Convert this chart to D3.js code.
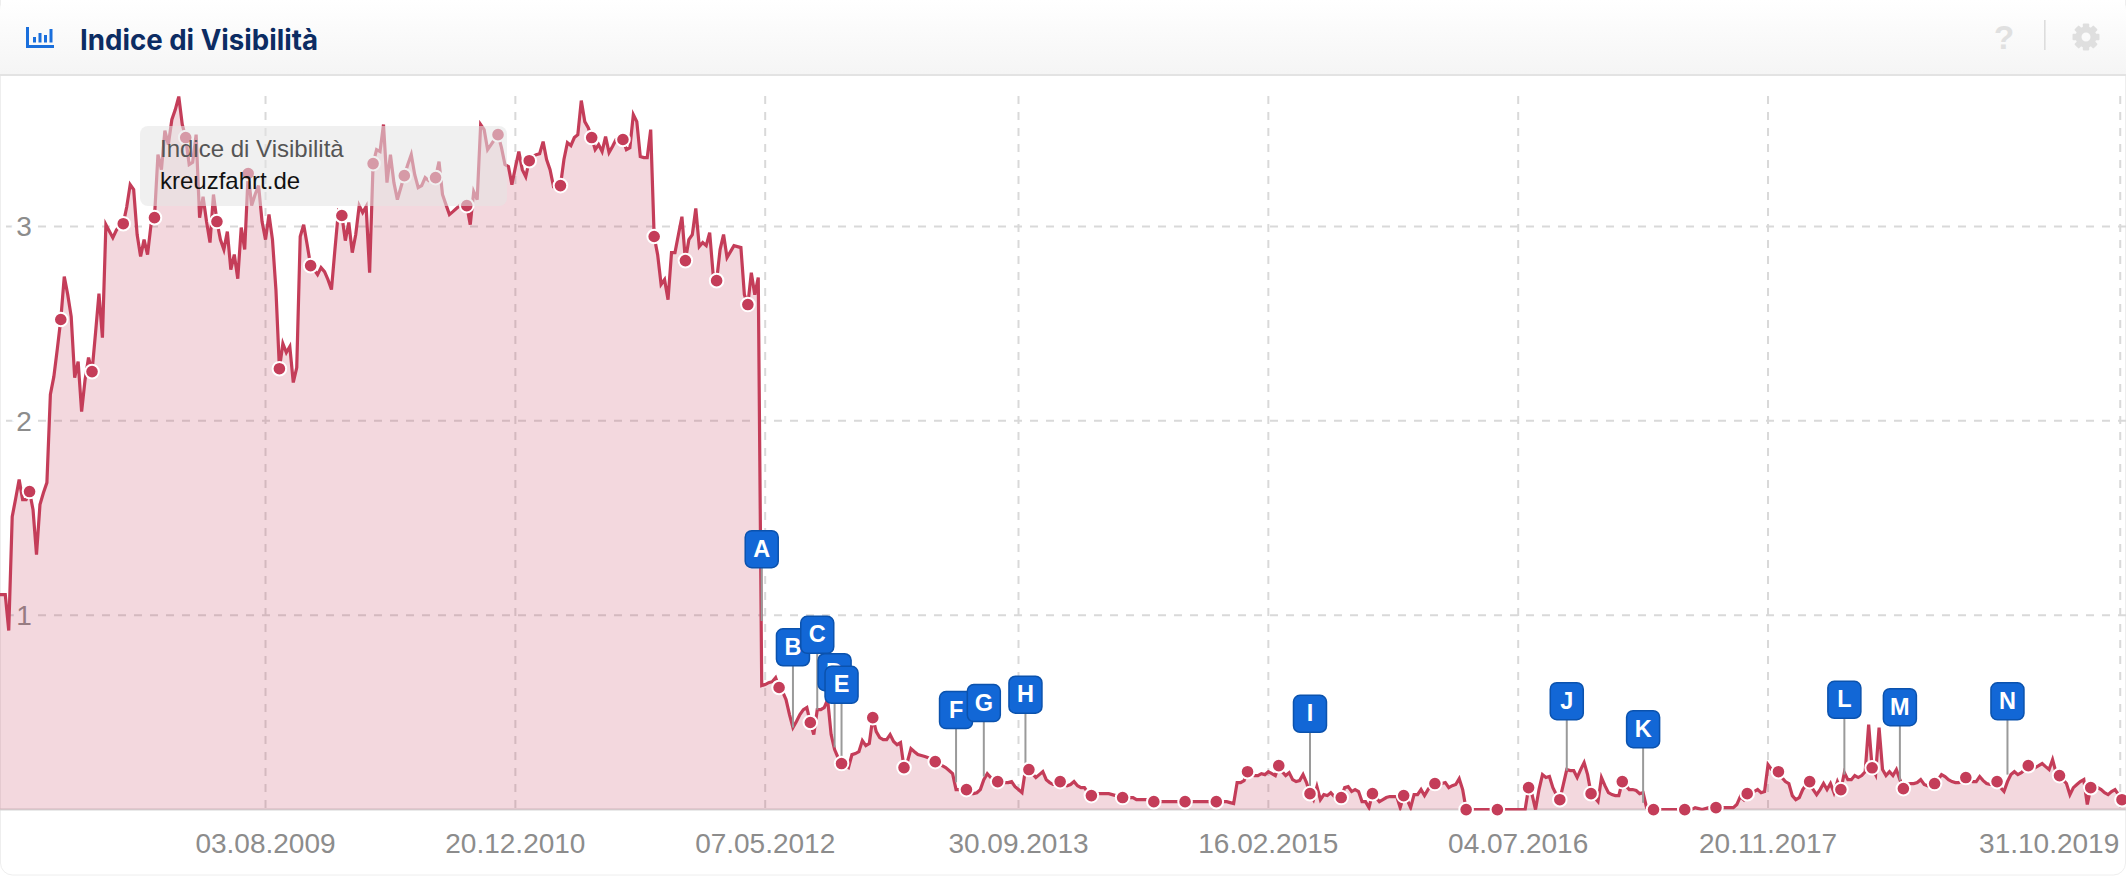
<!DOCTYPE html>
<html><head><meta charset="utf-8">
<script src="https://cdn.jsdelivr.net/npm/d3@7/dist/d3.min.js"></script>
<style>html,body{margin:0;padding:0;background:#fff;overflow:hidden}svg{display:block}text{font-family:"Liberation Sans",Arial,sans-serif}</style>
</head><body><svg id="c" width="2126" height="876"></svg>
<script>
const titleText = "Indice di Visibilità";
const tooltipTitle = "Indice di Visibilità";
const tooltipDomain = "kreuzfahrt.de";
const yTicks = [1, 2, 3];
const tickLabels = ["03.08.2009","20.12.2010","07.05.2012","30.09.2013","16.02.2015","04.07.2016","20.11.2017","31.10.2019"];
const tickWeeks = [77,149,221,294,366,438,510,611.5];
const markerEvery = 9;
// one value per week
const visibility = [1.106,
1.106,1.106,.921,1.507,1.6,1.698,1.595,1.595,1.636,1.543,
1.312,1.569,1.63,1.682,2.135,2.227,2.37,2.521,2.742,2.649,
2.536,2.222,2.305,2.047,2.212,2.325,2.253,2.45,2.654,2.428,
3.009,2.975,2.942,2.98,3.009,3.014,3.1,3.215,3.189,2.958,
2.845,2.932,2.855,3.009,3.045,3.369,3.292,3.493,3.421,3.549,
3.601,3.668,3.524,3.457,3.318,3.33,3.472,3.045,3.153,3.025,
2.917,3.164,3.025,2.932,2.881,2.973,2.778,2.855,2.731,2.994,
2.881,3.272,3.107,3.164,3.21,3.025,2.932,3.061,2.932,2.675,
2.268,2.397,2.351,2.382,2.197,2.274,2.948,3.009,2.906,2.798,
2.778,2.752,2.788,2.767,2.726,2.675,2.881,3.076,3.056,2.927,
3.02,2.865,2.958,3.107,3.071,3.102,2.762,3.323,3.395,3.385,
3.524,3.225,3.369,3.225,3.138,3.2,3.261,3.318,3.369,3.266,
3.2,3.21,3.251,3.236,3.25,3.251,3.333,3.164,3.112,3.061,
3.076,3.092,3.107,3.123,3.107,3.009,3.179,3.138,3.524,3.498,
3.395,3.421,3.447,3.472,3.405,3.318,3.308,3.215,3.303,3.385,
3.292,3.256,3.338,3.359,3.369,3.374,3.436,3.344,3.292,3.205,
3.205,3.21,3.344,3.431,3.416,3.457,3.472,3.647,3.539,3.508,
3.457,3.395,3.421,3.385,3.462,3.38,3.411,3.447,3.447,3.447,
3.395,3.405,3.575,3.539,3.359,3.354,3.354,3.498,2.948,2.855,
2.701,2.726,2.623,2.865,2.865,2.958,3.05,2.824,2.932,2.958,
3.092,2.896,2.917,2.901,2.968,2.752,2.721,2.881,2.958,2.84,
2.87,2.901,2.896,2.891,2.649,2.598,2.762,2.649,2.737,.638,
.643,.653,.658,.679,.628,.607,.566,.489,.422,.453,
.489,.514,.525,.448,.386,.514,.514,.525,.566,.386,
.309,.267,.237,.226,.216,.283,.288,.298,.355,.329,
.34,.473,.401,.37,.36,.36,.386,.35,.334,.345,
.216,.247,.314,.298,.283,.278,.273,.267,.257,.247,
.237,.226,.216,.201,.185,.103,.103,.113,.103,.082,
.082,.087,.103,.154,.185,.165,.154,.144,.139,.139,
.139,.144,.118,.103,.087,.206,.206,.185,.165,.18,
.195,.154,.139,.129,.129,.144,.129,.123,.129,.144,
.123,.113,.113,.087,.072,.072,.082,.082,.082,.082,
.077,.072,.072,.062,.062,.062,.062,.051,.051,.051,
.051,.051,.041,.041,.041,.041,.041,.041,.041,.041,
.041,.041,.041,.041,.041,.041,.041,.041,.041,.041,
.041,.041,.041,.041,.036,.031,.139,.139,.149,.195,
.185,.175,.175,.185,.18,.195,.185,.175,.226,.195,
.175,.19,.154,.144,.149,.18,.139,.082,.051,.118,
.051,.077,.072,.087,.067,.077,.062,.113,.118,.093,
.103,.093,.041,.041,.01,.082,.062,.041,.051,.062,
.067,.067,.067,.01,.072,.051,.01,.077,.077,.103,
.072,.103,.129,.134,.123,.134,.139,.113,.123,.129,
.159,.103,0,0,0,0,0,0,0,0,
0,0,0,0,0,0,0,0,0,0,
.113,.077,0,.103,.18,.165,.17,.113,.077,.051,
.129,.206,.201,.201,.165,.206,.242,.18,.082,.062,
.041,.165,.123,.087,.077,.072,.072,.144,.123,.103,
.103,.098,.082,.087,.01,.005,0,0,0,0,
0,0,0,0,0,0,0,0,.01,.005,
0,.005,.01,.01,.01,.01,.01,.01,.01,.01,
.026,.067,.051,.082,.093,.093,.103,.087,.093,.231,
.206,.195,.195,.165,.144,.134,.072,.051,.062,.103,
.129,.144,.103,.077,.103,.134,.103,.134,.087,.144,
.103,.19,.154,.154,.175,.165,.175,.195,.437,.215,
.18,.422,.206,.175,.195,.175,.206,.154,.108,.129,
.134,.134,.139,.154,.129,.123,.129,.134,.154,.18,
.17,.154,.144,.139,.139,.149,.165,.154,.144,.144,
.17,.149,.134,.129,.129,.144,.113,.093,.144,.18,
.195,.18,.19,.206,.226,.216,.216,.226,.237,.221,
.206,.257,.19,.175,.154,.134,.077,.113,.129,.144,
.154,.026,.113,.103,.113,.103,.087,.077,.093,.103,
.077,.051,.026];
const flagLetters = ["A","B","C","D","E","F","G","H","I","J","K","L","M","N"];
const flagWeeks = [220,229,236,241,243,276,284,296,378,452,474,532,548,579];
const flagTops = [1.435,.93,.994,.802,.737,.607,.643,.686,.588,.653,.509,.66,.622,.652];
const flagStemEnds = [.97,.422,.514,.32,.267,.14,.17,.206,.09,.2,.035,.18,.15,.18];

const svg = d3.select("#c");
const x = d3.scaleLinear().domain([0, 613]).range([-1.67, 2125.44]);
const y = d3.scaleLinear().domain([0, 3]).range([809.6, 226.4]);
const plotTop = 96, plotBottom = y(0), W = 2126;
const RED = "#c43d59";

const defs = svg.append("defs");
const grad = defs.append("linearGradient").attr("id","hdr").attr("x1",0).attr("x2",0).attr("y1",0).attr("y2",1);
grad.append("stop").attr("offset",0).attr("stop-color","#ffffff");
grad.append("stop").attr("offset",1).attr("stop-color","#f5f5f5");
defs.append("clipPath").attr("id","plot").append("rect").attr("x",0).attr("y",0).attr("width",W).attr("height",plotBottom+1);

// card and header
svg.append("rect").attr("x",0.5).attr("y",-12).attr("width",W-1).attr("height",887).attr("rx",12).attr("fill","#fff").attr("stroke","#eeeeee");
svg.append("path").attr("d",`M0 74V10Q0 0 10 0H${W-10}Q${W} 0 ${W} 10V74Z`).attr("fill","url(#hdr)");
svg.append("rect").attr("x",0).attr("y",74).attr("width",W).attr("height",2).attr("fill","#e3e3e3");

// title icon
const ic = svg.append("g").attr("fill","#1a6fdc");
ic.append("rect").attr("x",26).attr("y",27).attr("width",3).attr("height",21);
ic.append("rect").attr("x",26).attr("y",45).attr("width",28).attr("height",3);
[[33,37],[38.5,33],[44,35],[49.5,29]].forEach(b=>{
  ic.append("rect").attr("x",b[0]).attr("y",b[1]).attr("width",3).attr("height",42.5-b[1]);
});
svg.append("text").attr("x",80).attr("y",50).attr("font-size",28).attr("font-weight",700)
  .style("font-family","Inter").attr("fill","#0c2c63").attr("textLength",238).attr("lengthAdjust","spacingAndGlyphs").text(titleText);

// header right icons
svg.append("text").attr("x",2004).attr("y",49).attr("text-anchor","middle").attr("font-size",33).attr("font-weight",700).attr("fill","#e0e0e0").text("?");
svg.append("rect").attr("x",2044).attr("y",20).attr("width",1.6).attr("height",30).attr("fill","#dddddd");
const gear = svg.append("g").attr("transform","translate(2086,37)").attr("fill","#dfdfdf");
d3.range(8).forEach(k=>gear.append("rect").attr("x",-3.2).attr("y",-13.5).attr("width",6.4).attr("height",6).attr("rx",1).attr("transform",`rotate(${k*45})`));
gear.append("circle").attr("r",7.5).attr("fill","none").attr("stroke","#dfdfdf").attr("stroke-width",6);

// grid
const grid = svg.append("g").attr("stroke","#d9d9d9").attr("stroke-width",2).attr("stroke-dasharray","8 8").attr("fill","none");
yTicks.forEach(v=>grid.append("line").attr("x1",6).attr("x2",W).attr("y1",y(v)).attr("y2",y(v)));
tickWeeks.forEach(w=>grid.append("line").attr("x1",x(w)).attr("x2",x(w)).attr("y1",plotTop).attr("y2",plotBottom));
svg.append("line").attr("x1",0).attr("x2",W).attr("y1",plotBottom).attr("y2",plotBottom).attr("stroke","#d6d6d6").attr("stroke-width",2);

// y labels
svg.append("g").selectAll("text").data(yTicks).join("text")
  .attr("x",24).attr("y",d=>y(d)+10).attr("text-anchor","middle").attr("font-size",28).attr("fill","#8c8c8c")
  .attr("stroke","#fff").attr("stroke-width",10).attr("paint-order","stroke").text(d=>d);

// x labels
svg.append("g").selectAll("text").data(tickLabels).join("text")
  .attr("x",(d,i)=>i===tickLabels.length-1?x(tickWeeks[i])-1:x(tickWeeks[i]))
  .attr("y",853).attr("text-anchor",(d,i)=>i===tickLabels.length-1?"end":"middle")
  .attr("font-size",28).attr("fill","#8c8c8c").text(d=>d);

// series
const g = svg.append("g").attr("clip-path","url(#plot)");
const area = d3.area().x((d,i)=>x(i)).y0(plotBottom).y1(d=>y(d));
const line = d3.line().x((d,i)=>x(i)).y(d=>y(d));
g.append("path").attr("d",area(visibility)).attr("fill",RED).attr("fill-opacity",.2);
g.append("path").attr("d",line(visibility)).attr("fill","none").attr("stroke",RED).attr("stroke-width",3.2).attr("stroke-linejoin","miter");

// flag stems
svg.append("g").selectAll("line").data(flagLetters).join("line")
  .attr("x1",(d,i)=>x(flagWeeks[i])).attr("x2",(d,i)=>x(flagWeeks[i]))
  .attr("y1",(d,i)=>y(flagTops[i])).attr("y2",(d,i)=>y(flagStemEnds[i]))
  .attr("stroke","#9a9a9a").attr("stroke-width",2);

// markers
const marks = visibility.map((v,i)=>[i,v]).filter(d=>d[0]>0 && d[0]%markerEvery===0);
svg.append("g").selectAll("circle").data(marks).join("circle")
  .attr("cx",d=>x(d[0])).attr("cy",d=>y(d[1])).attr("r",6.8)
  .attr("fill",RED).attr("stroke","#fff").attr("stroke-width",2);

// flags
const fl = svg.append("g").selectAll("g").data(flagLetters).join("g")
  .attr("transform",(d,i)=>`translate(${x(flagWeeks[i])},${y(flagTops[i])})`);
fl.append("rect").attr("x",-16.5).attr("y",0).attr("width",33).attr("height",37).attr("rx",6.5)
  .attr("fill","#1267d6").attr("stroke","#0b52ad").attr("stroke-width",1.5);
fl.append("text").attr("y",26).attr("text-anchor","middle").attr("font-size",23.5).attr("font-weight",700).attr("fill","#fff").text(d=>d);

// tooltip
svg.append("rect").attr("x",140).attr("y",126).attr("width",367).attr("height",80).attr("rx",8).attr("fill","rgb(228,228,228)").attr("fill-opacity",.56);
svg.append("text").attr("x",160).attr("y",157).attr("font-size",24).attr("fill","#555").text(tooltipTitle);
svg.append("text").attr("x",160).attr("y",189).attr("font-size",24).attr("fill","#111").text(tooltipDomain);
</script></body></html>
